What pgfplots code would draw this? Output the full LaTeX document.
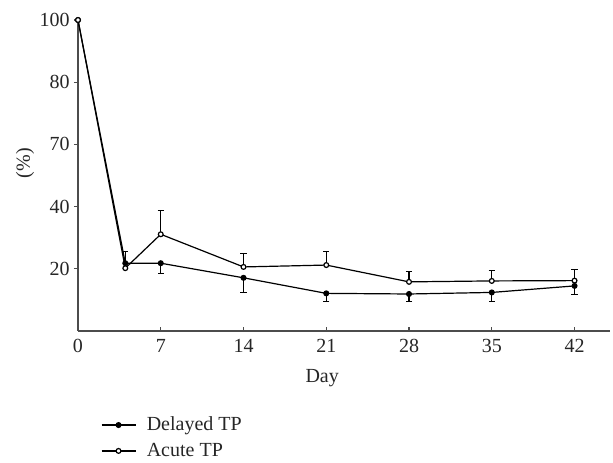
\documentclass[border=0pt]{standalone}
\usepackage{pgfplots}
\pgfplotsset{compat=1.18}
\usepackage{fontspec}
\setmainfont{Liberation Serif}
\begin{document}
\fontsize{15}{17}\selectfont
\begin{tikzpicture}
\useasboundingbox (-58.5pt,-99pt) rectangle (401.25pt,248.25pt);
\begin{axis}[
  at={(0,0)}, anchor=south west,
  scale only axis, width=399pt, height=233.25pt,
  xmin=0, xmax=45, ymin=0, ymax=100,
  axis x line*=bottom, axis y line*=left,
  axis line style={draw=black!70, line width=0.9pt, -},
  xtick={0,7,14,21,28,35,42},
  ytick={20,40,60,80,100}, yticklabels={20,40,70,80,100},
  tick style={draw=black!70, line width=0.8pt},
  major tick length=3pt,
  xtick align=inside, ytick align=outside,
  /pgf/number format/assume math mode=true,
  tick label style={font=\fontsize{15}{17}\selectfont, text=black!85},
  xticklabel style={yshift=-1pt},
  yticklabel style={xshift=2pt},
  xlabel={Day}, ylabel={(\%)},
  label style={font=\fontsize{15}{17}\selectfont, text=black!85},
  xlabel style={at={(axis description cs:0.459,0)}, anchor=center, yshift=-35.25pt},
  ylabel style={at={(axis description cs:0,0.54)}, anchor=center, yshift=39.75pt},
  clip=false,
  legend style={at={(axis description cs:0,0)}, anchor=north west,
    xshift=14pt, yshift=-60pt, draw=none, fill=none,
    font=\fontsize{15}{17}\selectfont, text=black!85,
    row sep=3pt, nodes={inner sep=2pt},
    /tikz/every odd column/.append style={column sep=6pt}},
  legend cell align=left,
  legend image code/.code={\draw[mark repeat=2,mark phase=2] plot coordinates {(0pt,0pt)(12.75pt,0pt)(25.5pt,0pt)};},
]
% error bars (drawn first)
\addplot[forget plot, draw=none, mark=none,
  error bars/.cd, y dir=minus, y explicit,
  error bar style={draw=black, line width=0.8pt, solid},
  error mark options={rotate=90, mark size=2.3pt, draw=black, line width=0.8pt}]
  coordinates {(7,21.8) -= (0,3.2) (14,17.1) -= (0,4.6) (21,12.1) -= (0,2.7)
               (28,11.9) -= (0,2.5) (35,12.4) -= (0,3.0) (42,14.5) -= (0,2.8)};
\addplot[forget plot, draw=none, mark=none,
  error bars/.cd, y dir=plus, y explicit,
  error bar style={draw=black, line width=0.8pt, solid},
  error mark options={rotate=90, mark size=2.3pt, draw=black, line width=0.8pt}]
  coordinates {(4,20.2) += (0,5.5) (7,31.1) += (0,7.7) (14,20.6) += (0,4.2)
               (21,21.2) += (0,4.3) (28,15.8) += (0,3.3) (35,16.1) += (0,3.4) (42,16.2) += (0,3.6)};
% Delayed TP
\addplot[black, line width=0.9pt, mark=*, mark size=1.8pt, mark options={solid, fill=black}]
  coordinates {(0,100) (4,21.8) (7,21.8) (14,17.1) (21,12.1) (28,11.9) (35,12.4) (42,14.5)};
\addlegendentry{Delayed TP}
% Acute TP
\addplot[black, line width=0.9pt, mark=*, mark size=1.8pt, mark options={solid, fill=white}]
  coordinates {(0,100) (4,20.2) (7,31.1) (14,20.6) (21,21.2) (28,15.8) (35,16.1) (42,16.2)};
\addlegendentry{Acute TP}
\end{axis}
\end{tikzpicture}
\end{document}
